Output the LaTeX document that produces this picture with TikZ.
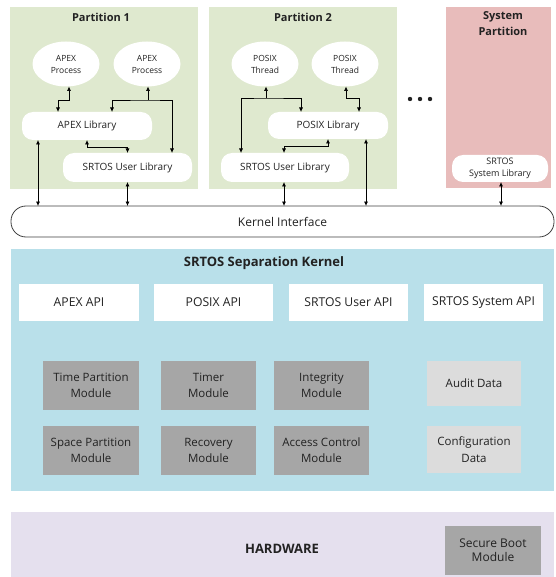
\documentclass[tikz,border=0pt]{standalone}
\usepackage{fontspec}
\setmainfont{Open Sans}
\usetikzlibrary{arrows.meta,shapes.geometric,calc}

\definecolor{partgreen}{HTML}{DFE9CF}
\definecolor{syspink}{HTML}{E8BCBB}
\definecolor{kernblue}{HTML}{B9E0EA}
\definecolor{hwlav}{HTML}{E5E0EE}
\definecolor{moddark}{HTML}{A6A6A6}
\definecolor{datagray}{HTML}{DCDCDC}
\definecolor{edgegray}{HTML}{404040}
\definecolor{txt}{HTML}{222222}

\tikzset{
  region/.style={fill=#1, draw=none, inner sep=0pt, outer sep=0pt},
  ttl/.style={font=\bfseries\fontsize{11}{16.5}\selectfont, align=center, inner sep=0pt, text=txt},
  proc/.style={ellipse, fill=white, minimum width=67pt, minimum height=45pt,
    inner sep=0pt, outer sep=0pt, align=center, text=txt, font=\fontsize{8.5}{12}\selectfont},
  libbox/.style={rectangle, rounded corners=11pt, fill=white, inner sep=0pt, outer sep=0pt,
    minimum height=28pt, align=center, text=txt, font=\fontsize{10}{12}\selectfont},
  apibox/.style={rectangle, fill=white, minimum width=119pt, minimum height=37pt,
    inner sep=0pt, outer sep=0pt, text=txt, font=\fontsize{12.2}{14}\selectfont},
  modbox/.style={rectangle, fill=moddark, minimum height=49pt, inner sep=0pt, outer sep=0pt,
    align=center, text=txt, font=\fontsize{11.5}{16}\selectfont},
  databox/.style={rectangle, fill=datagray, minimum width=94pt, inner sep=0pt, outer sep=0pt,
    align=center, text=txt, font=\fontsize{11.5}{16.5}\selectfont},
  both/.style={line width=0.7pt, {Latex[length=4.5pt,width=4pt]}-{Latex[length=4.5pt,width=4pt]}},
  tip/.style={line width=0.7pt, -{Latex[length=4.5pt,width=4pt]}},
}

\begin{document}
\begin{tikzpicture}[x=1pt, y=-1pt]
\useasboundingbox (0,0) rectangle (555,577);

% ---- partitions ----
\node[region=partgreen, minimum width=188pt, minimum height=182pt] (p1) at (104,98) {};
\node[region=partgreen, minimum width=188pt, minimum height=182pt] (p2) at (303,98) {};
\node[region=syspink, minimum width=105pt, minimum height=181pt] (ps) at (498.5,97.5) {};

\node[ttl] (p1t) at (101,17) {Partition 1};
\node[ttl] (p2t) at (303,17) {Partition 2};
\node[ttl] (pst) at (503,23.5) {System\\Partition};

% partition 1 contents
\node[proc] (ap1) at (66,64) {APEX\\Process};
\node[proc] (ap2) at (147,64) {APEX\\Process};
\node[libbox, minimum width=130pt] (apexlib) at (87,126) {APEX Library};
\node[libbox, minimum width=129pt, minimum height=29pt] (ul1) at (127.5,167.5) {SRTOS User Library};

% partition 2 contents
\node[proc] (pt1) at (265,64) {POSIX\\Thread};
\node[proc] (pt2) at (345,64) {POSIX\\Thread};
\node[libbox, minimum width=120pt, minimum height=27pt] (posixlib) at (328,125.5) {POSIX Library};
\node[libbox, minimum width=128pt, minimum height=29pt] (ul2) at (285,167.5) {SRTOS User Library};

% system partition contents
\node[libbox, minimum width=96pt, minimum height=27pt, font=\fontsize{9}{12}\selectfont]
  (syslib) at (500,168.5) {SRTOS\\System Library};

% more partitions
\fill[txt] (410,99) circle (2.2pt);
\fill[txt] (420,99) circle (2.2pt);
\fill[txt] (430,99) circle (2.2pt);

% ---- kernel interface ----
\node[rectangle, rounded corners=15pt, draw=edgegray, line width=0.8pt, fill=white,
  minimum width=543pt, minimum height=31pt, inner sep=0pt, outer sep=0pt, text=txt,
  font=\fontsize{12}{14}\selectfont] (ki) at (282.5,221.5) {Kernel Interface};

% ---- separation kernel ----
\node[region=kernblue, minimum width=543pt, minimum height=242pt] (sk) at (282.5,370) {};
\node[ttl, font=\bfseries\fontsize{13}{15}\selectfont] (skt) at (264,263) {SRTOS Separation Kernel};

\node[apibox, minimum width=120pt] (apexapi) at (79,302.5) {APEX API};
\node[apibox] (posixapi) at (213.5,302.5) {POSIX API};
\node[apibox] (userapi) at (348.5,302.5) {SRTOS User API};
\node[apibox] (sysapi) at (483.5,302.5) {SRTOS System API};

\node[modbox, minimum width=96pt] (tpm) at (91,385.5) {Time Partition\\Module};
\node[modbox, minimum width=95pt] (tmm) at (208.5,385.5) {Timer\\Module};
\node[modbox, minimum width=95pt] (inm) at (321.5,385.5) {Integrity\\Module};
\node[modbox, minimum width=96pt] (spm) at (91,450.5) {Space Partition\\Module};
\node[modbox, minimum width=95pt] (rcm) at (208.5,450.5) {Recovery\\Module};
\node[modbox, minimum width=95pt] (acm) at (321.5,450.5) {Access Control\\Module};
\node[databox, minimum height=45pt] (aud) at (474,383.5) {Audit Data};
\node[databox, minimum height=47pt] (cfg) at (474,449.5) {Configuration\\Data};

% ---- hardware ----
\node[region=hwlav, minimum width=543pt, minimum height=65pt] (hw) at (282.5,544.5) {};
\node[ttl, font=\bfseries\fontsize{13}{15}\selectfont] (hwt) at (282,549) {HARDWARE};
\node[rectangle, fill=moddark, minimum width=96pt, minimum height=49pt, inner sep=0pt,
  align=center, text=txt, font=\fontsize{12}{14}\selectfont] (sbm) at (493,550.5) {Secure Boot\\Module};

% ---- connectors: partition 1 ----
\draw[both] ([xshift=3pt]ap1.south) -- ++(0,13.5) -| ([xshift=-29pt]apexlib.north);
\coordinate (j1) at (148,100);
\draw[tip] (j1) -- (j1 |- ap2.south);
\draw[both] ([xshift=25pt]apexlib.north) |- (j1) -| ([xshift=44.5pt]ul1.north);
\draw[both] (apexlib.south) -- ++(0,7) -| (ul1.north);
\draw[both] ([xshift=-49pt]apexlib.south) -- ([xshift=-49pt]apexlib.south |- ki.north);
\draw[both] (ul1.south) -- (ul1.south |- ki.north);

% ---- connectors: partition 2 ----
\coordinate (j2) at (266,98);
\draw[tip] (j2) -- (j2 |- pt1.south);
\draw[both] ([xshift=-44pt]ul2.north) |- (j2) -| ([xshift=-27pt]posixlib.north);
\draw[both] ([xshift=1pt]pt2.south) -- ++(0,11.5) -| ([xshift=31pt]posixlib.north);
\draw[both] (posixlib.south) -- ++(0,7) -| ([xshift=-1pt]ul2.north);
\draw[both] ([xshift=-1pt]ul2.south) -- ([xshift=-1pt]ul2.south |- ki.north);
\draw[both] ([xshift=38pt]posixlib.south) -- ([xshift=38pt]posixlib.south |- ki.north);

% ---- connectors: system partition ----
\draw[both] ([xshift=1pt]syslib.south) -- ([xshift=1pt]syslib.south |- ki.north);
\end{tikzpicture}
\end{document}
